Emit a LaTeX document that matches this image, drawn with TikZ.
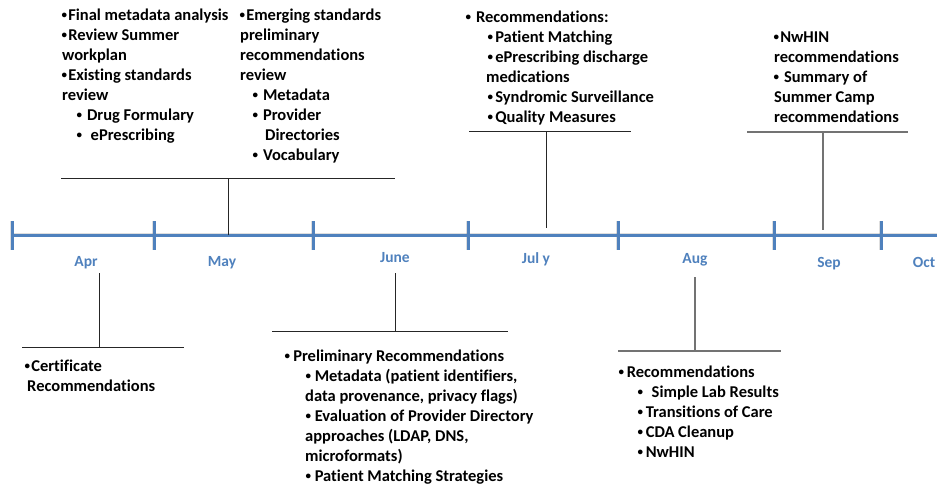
\documentclass[tikz,border=0pt]{standalone}
\usepackage{fontspec}
\setmainfont{Carlito}[Ligatures=NoCommon]
\definecolor{axisblue}{RGB}{79,129,189}
% small list bullet, kept at the advance of a full-size one
\newcommand\bu{\kern1.3pt{\fontsize{11}{11}\selectfont\raisebox{1.7pt}{•}}\kern1.3pt}
\begin{document}
\begin{tikzpicture}[x=1pt,y=-1pt,
  note/.style={anchor=north west, inner sep=0pt, align=left, text=black,
               font=\bfseries\fontsize{16.5}{20}\selectfont},
  month/.style={anchor=base, inner sep=0pt, text=axisblue,
                font=\bfseries\fontsize{15.5}{18}\selectfont},
  leader/.style={draw=black!85, line width=0.9pt},
  leaderlight/.style={draw=black!55, line width=1.1pt},
  axisline/.style={draw=axisblue, line width=3pt},
  axisshadow/.style={draw=black, opacity=0.13, line width=4pt},
]
\useasboundingbox (0,0) rectangle (937,487);

% ---------- time axis ----------
\coordinate (axL) at (12,235);
\coordinate (axR) at (937,235);
\foreach \x [count=\i] in {12,154,313,468,618,774,881}{
  \coordinate (tk\i t) at (\x,221);
  \coordinate (tk\i b) at (\x,250);
}
% soft shadow under the axis
\begin{scope}[shift={(1.5,2.5)}]
  \draw[axisshadow] (axL) -- (axR);
  \foreach \i in {1,...,7}{ \draw[axisshadow] (tk\i t) -- (tk\i b); }
\end{scope}
\draw[axisline] (axL) -- (axR);
\foreach \i in {1,...,7}{ \draw[axisline] (tk\i t) -- (tk\i b); }

% ---------- month labels ----------
\node[month] (apr)  at (86,266)  {Apr};
\node[month] (may)  at (222,266) {May};
\node[month] (jun)  at (395,262) {June};
\node[month] (jul)  at (536,263) {Jul y};
\node[month] (aug)  at (695,263) {Aug};
\node[month] (sep)  at (829,267) {Sep};
\node[month] (oct)  at (924,267) {Oct};

% ---------- May (above) ----------
\node[note] (mayleft) at (60,6) {\strut \bu Final metadata analysis\\
  \bu Review Summer\\
  \hspace*{2pt}workplan\\
  \bu Existing standards\\
  \hspace*{2pt}review\\
  \hspace*{15pt}\bu\ Drug Formulary\\
  \hspace*{15pt}\bu\ \ ePrescribing};
\node[note] (mayright) at (238,6) {\strut \bu Emerging standards\\
  \hspace*{2pt}preliminary\\
  \hspace*{2pt}recommendations\\
  \hspace*{2pt}review\\
  \hspace*{13pt}\bu\ Metadata\\
  \hspace*{13pt}\bu\ Provider\\
  \hspace*{27pt}Directories\\
  \hspace*{13pt}\bu\ Vocabulary};
\coordinate (mayBarL) at (61,178);
\coordinate (mayBarR) at (395,178);
\coordinate (mayStem) at (228,178);
\coordinate (mayAxis) at (228,235);
\draw[leader] (mayBarL) -- (mayBarR);
\draw[leader] (mayStem) -- (mayAxis);

% ---------- July (above) ----------
\node[note] (julnote) at (464,8) {\strut \bu\ Recommendations:\\
  \hspace*{22pt}\bu\kern1pt Patient Matching\\
  \hspace*{22pt}\bu\kern1pt ePrescribing discharge\\
  \hspace*{22pt}medications\\
  \hspace*{22pt}\bu\kern1pt Syndromic Surveillance\\
  \hspace*{22pt}\bu\kern1pt Quality Measures};
\coordinate (julBarL) at (469,131);
\coordinate (julBarR) at (631,131);
\coordinate (julStem) at (546,131);
\coordinate (julAxis) at (546,228);
\draw[leader] (julBarL) -- (julBarR);
\draw[leader] (julStem) -- (julAxis);

% ---------- September (above) ----------
\node[note] (sepnote) at (772,28) {\strut \bu NwHIN\\
  \hspace*{2pt}recommendations\\
  \bu\ Summary of\\
  \hspace*{2pt}Summer Camp\\
  \hspace*{2pt}recommendations};
\coordinate (sepBarL) at (747,132);
\coordinate (sepBarR) at (908,132);
\coordinate (sepStem) at (823,132);
\coordinate (sepAxis) at (823,230);
\draw[leaderlight] (sepBarL) -- (sepBarR);
\draw[leaderlight] (sepStem) -- (sepAxis);

% ---------- April (below) ----------
\coordinate (aprAxis) at (99,273);
\coordinate (aprStem) at (99,347);
\coordinate (aprBarL) at (22,347);
\coordinate (aprBarR) at (184,347);
\draw[leader] (aprAxis) -- (aprStem);
\draw[leader] (aprBarL) -- (aprBarR);
\node[note] (aprnote) at (23,357) {\strut \bu Certificate\\
  \hspace*{4pt}Recommendations};

% ---------- June (below) ----------
\coordinate (junAxis) at (395,273);
\coordinate (junStem) at (395,331);
\coordinate (junBarL) at (272,331);
\coordinate (junBarR) at (508,331);
\draw[leader] (junAxis) -- (junStem);
\draw[leader] (junBarL) -- (junBarR);
\node[note] (junnote) at (283,347) {\strut \bu\kern2pt Preliminary Recommendations\\
  \hspace*{21pt}\bu\kern2.5pt Metadata (patient identifiers,\\
  \hspace*{22pt}data provenance, privacy flags)\\
  \hspace*{21pt}\bu\kern2.5pt Evaluation of Provider Directory\\
  \hspace*{22pt}approaches (LDAP, DNS,\\
  \hspace*{22pt}microformats)\\
  \hspace*{21pt}\bu\kern2.5pt Patient Matching Strategies};

% ---------- August (below) ----------
\coordinate (augAxis) at (695,277);
\coordinate (augStem) at (695,351);
\coordinate (augBarL) at (618,351);
\coordinate (augBarR) at (781,351);
\draw[leaderlight] (augAxis) -- (augStem);
\draw[leaderlight] (augBarL) -- (augBarR);
\node[note] (augnote) at (617,363) {\strut \bu\kern1.5pt Recommendations\\
  \hspace*{19pt}\bu\ \ Simple Lab Results\\
  \hspace*{19pt}\bu\kern1.5pt Transitions of Care\\
  \hspace*{19pt}\bu\kern1.5pt CDA Cleanup\\
  \hspace*{19pt}\bu\kern1.5pt NwHIN};
\end{tikzpicture}
\end{document}
